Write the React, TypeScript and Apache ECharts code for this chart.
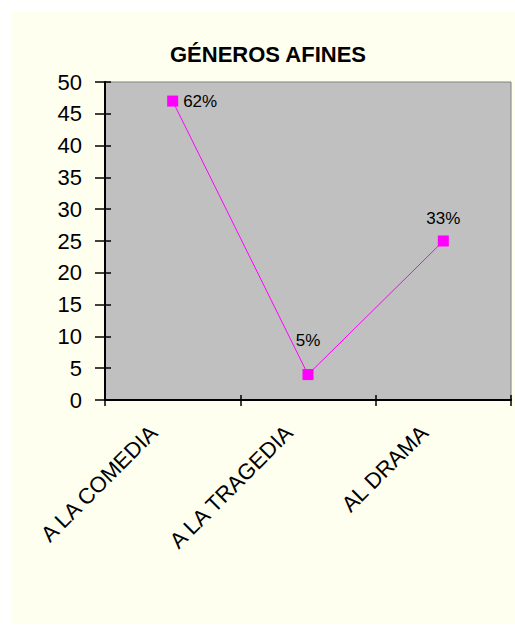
import React, { useEffect, useRef } from "react";
import * as echarts from "echarts";

const title = "GÉNEROS AFINES";
const categories = ["A LA COMEDIA", "A LA TRAGEDIA", "AL DRAMA"];
const values = [47, 4, 25];
const yTicks = { min: 0, max: 50, interval: 5 };

const FONT = "'Liberation Sans', Arial, sans-serif";

export default function App() {
  const ref = useRef<HTMLDivElement>(null);
  useEffect(() => {
    if (!ref.current) return;
    const chart = echarts.init(ref.current, null, { renderer: "svg" });
    const total = values.reduce((a, b) => a + b, 0);
    const labelCfg = [
      { position: "right", distance: 5 },
      { position: "top", distance: 20 },
      { position: "top", distance: 9 },
    ];
    const gridBox = { left: 93, top: 70, right: 4, bottom: 224 };
    chart.setOption({
      animation: false,
      backgroundColor: "#FFFFF0",
      title: {
        text: title,
        left: 251,
        top: 26,
        textAlign: "center",
        textStyle: { fontFamily: FONT, fontSize: 22, fontWeight: "bold", color: "#000" },
      },
      grid: [
        {
          ...gridBox,
          show: true,
          backgroundColor: "#C0C0C0",
          borderColor: "#808080",
          borderWidth: 1,
        },
        { ...gridBox, show: false },
      ],
      xAxis: [
        {
          type: "category",
          gridIndex: 0,
          data: categories,
          boundaryGap: true,
          axisLine: { lineStyle: { color: "#000", width: 2 } },
          axisTick: { show: true, length: 6, lineStyle: { color: "#000", width: 1.5 } },
          axisLabel: {
            rotate: 45,
            interval: 0,
            margin: 10,
            padding: [0, 27, 0, 0],
            fontFamily: FONT,
            fontSize: 22,
            color: "#000",
          },
          splitLine: { show: false },
        },
        {
          type: "category",
          gridIndex: 1,
          data: categories,
          boundaryGap: true,
          position: "bottom",
          axisLine: { show: false },
          axisTick: { show: true, inside: true, length: 5, lineStyle: { color: "#000", width: 1.5 } },
          axisLabel: { show: false },
          splitLine: { show: false },
        },
      ],
      yAxis: [
        {
          type: "value",
          gridIndex: 0,
          ...yTicks,
          axisLine: { show: true, lineStyle: { color: "#000", width: 2 } },
          axisTick: { show: true, length: 10, lineStyle: { color: "#000", width: 1.5 } },
          axisLabel: { margin: 23, fontFamily: FONT, fontSize: 22, color: "#000" },
          splitLine: { show: false },
        },
        {
          type: "value",
          gridIndex: 1,
          ...yTicks,
          axisLine: { show: false },
          axisTick: { show: true, inside: true, length: 6, lineStyle: { color: "#000", width: 1.5 } },
          axisLabel: { show: false },
          splitLine: { show: false },
        },
      ],
      series: [
        {
          type: "line",
          xAxisIndex: 0,
          yAxisIndex: 0,
          data: values.map((v, i) => ({
            value: v,
            label: labelCfg[i],
          })),
          symbol: "rect",
          symbolSize: 11,
          itemStyle: { color: "#FF00FF" },
          lineStyle: { color: "#FF00FF", width: 1 },
          label: {
            show: true,
            fontFamily: FONT,
            fontSize: 17,
            color: "#000",
            formatter: (p: any) => Math.round((p.value / total) * 100) + "%",
          },
        },
      ],
    });
    return () => chart.dispose();
  }, []);
  return (
    <div style={{ position: "absolute", left: 0, top: 0, width: 515, height: 626, background: "#fff" }}>
      <div ref={ref} style={{ position: "absolute", left: 12, top: 12, width: 503, height: 612 }} />
    </div>
  );
}
